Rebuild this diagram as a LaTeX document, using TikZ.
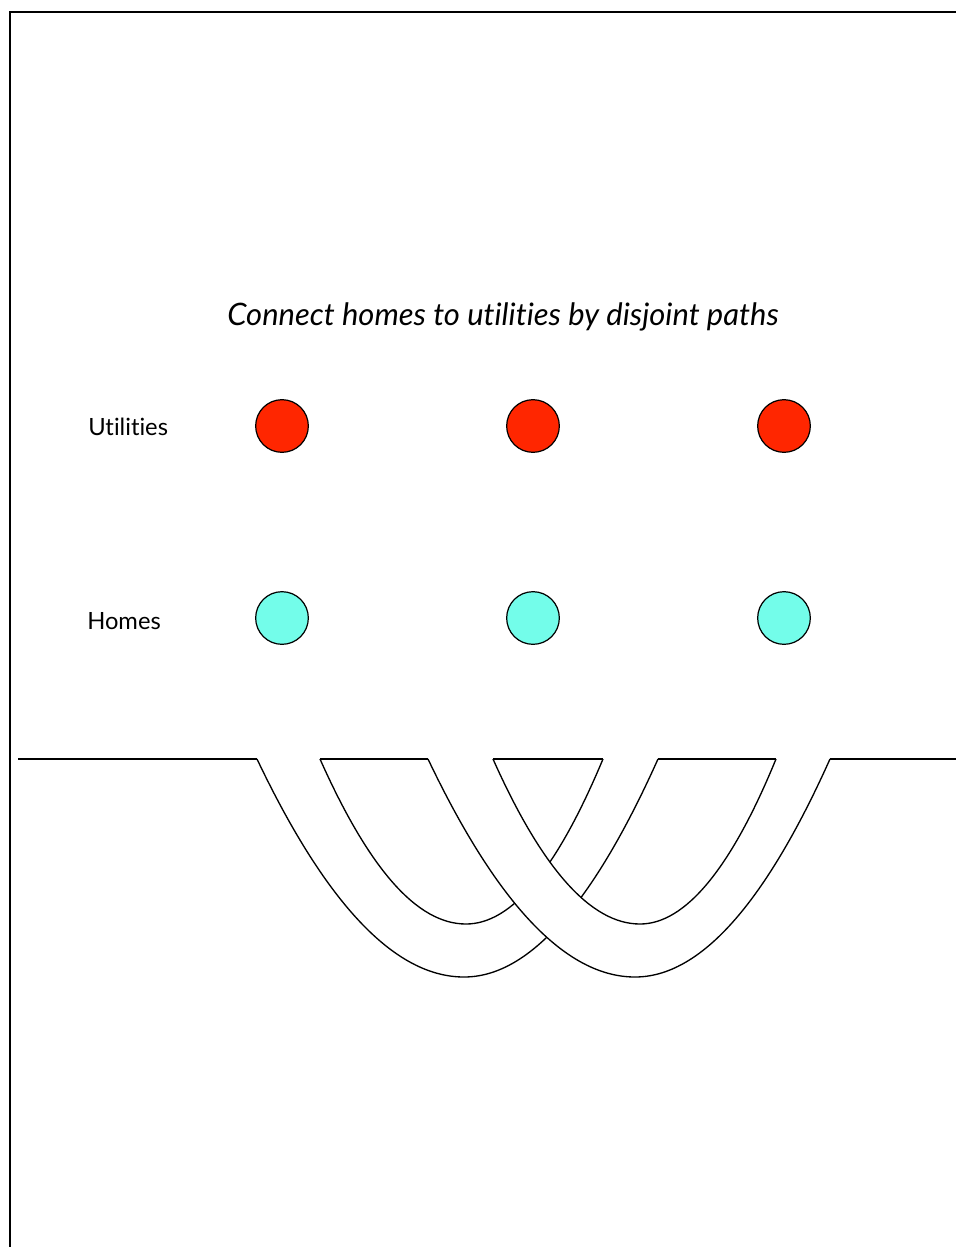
\documentclass[tikz,border=0pt]{standalone}
\usepackage{fontspec}
\setmainfont[Ligatures=NoCommon]{Lato}
\definecolor{utilred}{RGB}{255,38,0}
\definecolor{homecyan}{RGB}{115,253,234}
\begin{document}
\begin{tikzpicture}[x=0.75pt,y=-0.75pt,
    site/.style={circle,draw,line width=0.9pt,minimum size=39.5pt,inner sep=0pt},
    tube/.style={line width=1pt},
    ground/.style={line width=1.1pt}]
    \useasboundingbox (0,0) rectangle (956,1247);
    % Frame
    \draw[line width=1.5pt] (10,1247) -- (10,12) -- (956,12);
    % Title
    \node (title) at (503,317) {\fontsize{23.2}{27}\selectfont\itshape Connect homes to utilities by disjoint paths};
    % Row labels
    \node[anchor=west,inner sep=0pt] (utillabel) at (88,427) {\fontsize{17.8}{21}\selectfont Utilities};
    \node[anchor=west,inner sep=0pt] (homelabel) at (87,621) {\fontsize{17.8}{21}\selectfont Homes};
    % Utilities and homes
    \foreach \i/\x in {1/282,2/533,3/784} {
        \node[site,fill=utilred] (util\i) at (\x,426) {};
        \node[site,fill=homecyan] (home\i) at (\x,618) {};
    }
    % Openings in the ground line
    \coordinate (g0) at (18,759);
    \coordinate (a1) at (257,759);
    \coordinate (a2) at (320,759);
    \coordinate (b1) at (428,759);
    \coordinate (b2) at (493,759);
    \coordinate (a3) at (603,759);
    \coordinate (a4) at (658,759);
    \coordinate (b3) at (776,759);
    \coordinate (b4) at (830,759);
    \coordinate (g1) at (956,759);
    % Ground line
    \draw[ground] (g0) -- (a1) (a2) -- (b1) (b2) -- (a3) (a4) -- (b3) (b4) -- (g1);
    % Tube from a1/a2 to a3/a4 (passes under)
    \draw[tube] (a1) .. controls (326,904) and (395,977) .. (464,977)
        .. controls (529,977) and (593,904) .. (a4);
    \draw[tube] (a2) .. controls (369,869) and (417,924) .. (466,924)
        .. controls (512,924) and (557,869) .. (a3);
    % Tube from b1/b2 to b3/b4 (on top)
    \fill[white] (b1) .. controls (497,904) and (566,977) .. (635,977)
        .. controls (700,977) and (765,904) .. (b4) -- (b3)
        .. controls (731,869) and (685,924) .. (640,924)
        .. controls (591,924) and (542,869) .. (b2) -- cycle;
    \draw[tube] (b1) .. controls (497,904) and (566,977) .. (635,977)
        .. controls (700,977) and (765,904) .. (b4);
    \draw[tube] (b2) .. controls (542,869) and (591,924) .. (640,924)
        .. controls (685,924) and (731,869) .. (b3);
\end{tikzpicture}
\end{document}
